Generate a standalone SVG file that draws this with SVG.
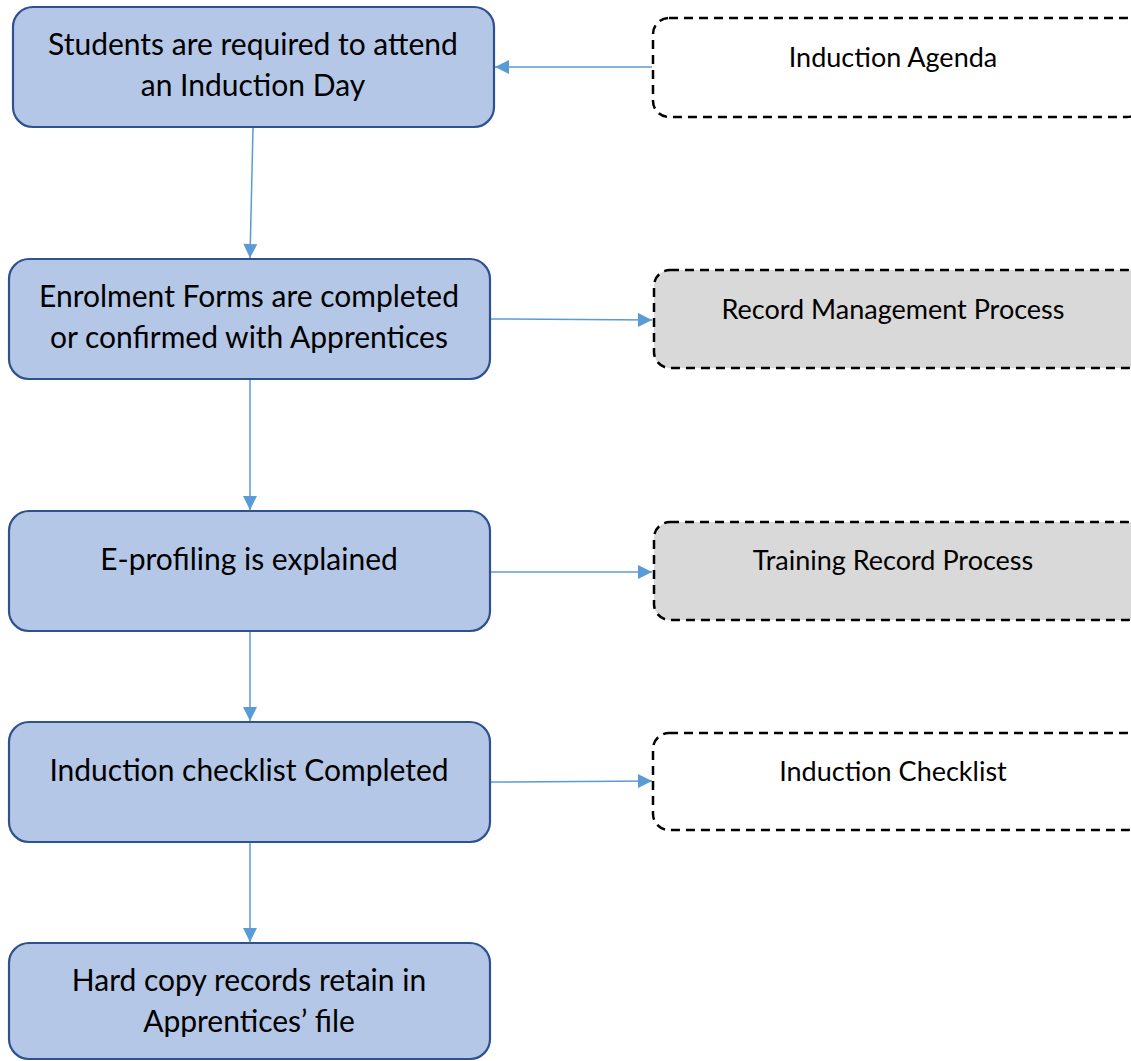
<svg xmlns="http://www.w3.org/2000/svg" width="1131" height="1061" viewBox="0 0 1131 1061">
  <style>
    .step { fill: #B4C7E7; stroke: #2F528F; stroke-width: 2.2; }
    .doc { fill: #FFFFFF; stroke: #000000; stroke-width: 2.5; stroke-dasharray: 9 6; }
    .doc.grey { fill: #D9D9D9; }
    .lbl { font-family: Lato, "Liberation Sans", sans-serif; font-size: 30px; fill: #000000; text-anchor: middle; }
    .lbl.small { font-size: 27px; }
    .link { fill: none; stroke: #5B9BD5; stroke-width: 1.5; marker-end: url(#arrow); }
  </style>
  <defs>
    <marker id="arrow" viewBox="0 0 10 10" refX="10" refY="5" markerWidth="15" markerHeight="14" markerUnits="userSpaceOnUse" orient="auto">
      <path d="M0,0 L10,5 L0,10 z" fill="#5B9BD5"/>
    </marker>
  </defs>
  <rect width="1131" height="1061" fill="#FFFFFF"/>

  <g id="connectors">
    <line class="link" x1="652" y1="67" x2="495" y2="67"/>
    <line class="link" x1="253" y1="128" x2="250" y2="258"/>
    <line class="link" x1="491" y1="319" x2="652" y2="320"/>
    <line class="link" x1="250" y1="380" x2="250" y2="510"/>
    <line class="link" x1="491" y1="572" x2="652" y2="572"/>
    <line class="link" x1="250" y1="632" x2="250" y2="721"/>
    <line class="link" x1="491" y1="782" x2="652" y2="781"/>
    <line class="link" x1="250" y1="843" x2="250" y2="942"/>
  </g>

  <g id="induction-day">
    <rect class="step" x="13" y="7" width="481" height="120" rx="20"/>
    <text class="lbl" x="253" y="55">Students are required to attend</text>
    <text class="lbl" x="253" y="96">an Induction Day</text>
  </g>

  <g id="enrolment-forms">
    <rect class="step" x="9" y="259" width="481" height="120" rx="20"/>
    <text class="lbl" x="249" y="307">Enrolment Forms are completed</text>
    <text class="lbl" x="249" y="348">or confirmed with Apprentices</text>
  </g>

  <g id="e-profiling">
    <rect class="step" x="9" y="511" width="481" height="120" rx="20"/>
    <text class="lbl" x="249" y="570">E-profiling is explained</text>
  </g>

  <g id="induction-checklist-completed">
    <rect class="step" x="9" y="722" width="481" height="120" rx="20"/>
    <text class="lbl" x="249" y="781">Induction checklist Completed</text>
  </g>

  <g id="hard-copy-records">
    <rect class="step" x="9" y="943" width="481" height="116" rx="20"/>
    <text class="lbl" x="249" y="991">Hard copy records retain in</text>
    <text class="lbl" x="249" y="1032">Apprentices’ file</text>
  </g>

  <g id="induction-agenda">
    <rect class="doc" x="653" y="18" width="490" height="99" rx="16"/>
    <text class="lbl small" x="893" y="67">Induction Agenda</text>
  </g>

  <g id="record-management">
    <rect class="doc grey" x="654" y="270" width="489" height="98" rx="16"/>
    <text class="lbl small" x="893" y="319">Record Management Process</text>
  </g>

  <g id="training-record">
    <rect class="doc grey" x="654" y="522" width="489" height="98" rx="16"/>
    <text class="lbl small" x="893" y="570">Training Record Process</text>
  </g>

  <g id="induction-checklist">
    <rect class="doc" x="653" y="733" width="490" height="97" rx="16"/>
    <text class="lbl small" x="893" y="781">Induction Checklist</text>
  </g>
</svg>
